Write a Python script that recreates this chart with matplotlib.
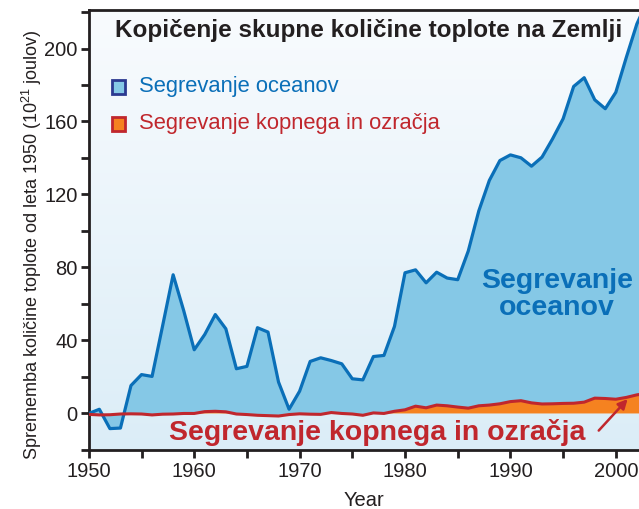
import numpy as np
import matplotlib
matplotlib.use("Agg")
import matplotlib.pyplot as plt
from matplotlib.patches import Rectangle
from matplotlib.ticker import MultipleLocator

plt.rcParams['font.family'] = ['Liberation Sans', 'DejaVu Sans']
plt.rcParams['mathtext.fontset'] = 'custom'
plt.rcParams['mathtext.rm'] = 'Liberation Sans'

# podatki (odčitani s slike)
years = list(range(1950, 2004))
ocean = [0, 2.3, -8.3, -8, 15.3, 21.3, 20.3, 48, 76, 56.4,
         34.9, 43.3, 54.2, 46.4, 24.5, 25.8, 47, 44.6, 17.2, 2.3,
         12.2, 28.5, 30.5, 29, 27.2, 19, 18.4, 31.2, 31.8, 47.7,
         77.1, 78.7, 71.6, 77.4, 74.2, 73.3, 89, 111, 127.7, 138.6,
         141.7, 140.1, 135.5, 140.5, 150.5, 161.5, 179.2, 184, 171.9, 167,
         176, 195.2, 213.5, 226]
land = [-0.5, -0.8, -0.7, -0.3, -0.2, -0.3, -0.8, -0.4, -0.3, 0,
        0, 1, 1.2, 0.9, -0.3, -0.6, -1, -1.2, -1.4, -0.6,
        -0.2, -0.4, -0.5, 0.5, 0, -0.3, -1, 0.3, 0, 1.2,
        2, 4, 3.1, 4.6, 4.2, 3.5, 2.9, 4.2, 4.6, 5.3,
        6.5, 7, 5.8, 5.2, 5.3, 5.5, 5.6, 6.2, 8.4, 8.2,
        7.8, 8.8, 10.2, 11]

yrs = np.array(years)
oc = np.array(ocean)
ld = np.array(land)

fig = plt.figure(figsize=(6.39, 5.09), dpi=100)
ax = fig.add_axes([0.139, 0.116, 0.861, 0.864])

# ozadje z gradientom (zgoraj skoraj belo, spodaj svetlo modro)
grad = np.linspace(0, 1, 256).reshape(-1, 1)
top_c = np.array([0.975, 0.985, 0.995])
bot_c = np.array([0.86, 0.93, 0.97])
img = top_c + (bot_c - top_c) * grad[:, :, None] * np.ones((1, 2, 1))
ax.imshow(img, extent=[1950, 2002.2, -20, 221], aspect='auto', origin='upper', zorder=0)
ax.set_xlim(1950, 2002.2)
ax.set_ylim(-20, 221)

ax.fill_between(yrs, ld, oc, color='#85c8e6', zorder=1, lw=0)
ax.fill_between(yrs, 0, ld, where=ld > 0, interpolate=True, color='#f58220', zorder=2, lw=0)
ax.plot(yrs, oc, color='#0a6fb8', lw=2.3, zorder=3)
ax.plot(yrs, ld, color='#c0272d', lw=2.2, zorder=4)

for s in ['left', 'bottom', 'top']:
    ax.spines[s].set_linewidth(2)
    ax.spines[s].set_color('#231f20')
ax.spines['right'].set_visible(False)

ax.xaxis.set_major_locator(MultipleLocator(10))
ax.xaxis.set_minor_locator(MultipleLocator(5))
ax.yaxis.set_major_locator(MultipleLocator(40))
ax.yaxis.set_minor_locator(MultipleLocator(20))
ax.tick_params(which='both', direction='out', width=2, length=6, color='#231f20',
               labelsize=14.5, labelcolor='#231f20')
ax.tick_params(axis='x', pad=3)
ax.tick_params(axis='y', pad=2)

ax.set_xlabel('Year', fontsize=14.5, labelpad=7, color='#231f20')
ax.set_ylabel('Sprememba količine toplote od leta 1950 (10$^{21}$ joulov)', fontsize=13,
              color='#231f20')
ax.yaxis.set_label_coords(-0.082, 0.466)

ax.text(0.047, 0.953, 'Kopičenje skupne količine toplote na Zemlji', transform=ax.transAxes,
        fontsize=17.5, fontweight='bold', color='#231f20', va='center', ha='left')

ax.add_patch(Rectangle((0.042, 0.81), 0.024, 0.031, transform=ax.transAxes,
                       facecolor='#85c8e6', edgecolor='#2b3990', lw=2, zorder=6))
ax.text(0.091, 0.827, 'Segrevanje oceanov', transform=ax.transAxes, fontsize=15.8,
        color='#0a6fb8', va='center', ha='left')
ax.add_patch(Rectangle((0.042, 0.726), 0.024, 0.031, transform=ax.transAxes,
                       facecolor='#f58220', edgecolor='#c0272d', lw=2, zorder=6))
ax.text(0.091, 0.743, 'Segrevanje kopnega in ozračja', transform=ax.transAxes, fontsize=15.8,
        color='#c0272d', va='center', ha='left')

ax.text(1994.4, 65, 'Segrevanje\noceanov', fontsize=20.5, fontweight='bold', color='#0a6fb8',
        ha='center', va='center', linespacing=1.05, zorder=6)
ax.text(1957.6, -10.5, 'Segrevanje kopnega in ozračja', fontsize=20.5, fontweight='bold',
        color='#c0272d', ha='left', va='center', zorder=6)
ax.annotate('', xy=(2001.3, 9), xytext=(1998.2, -10.5),
            arrowprops=dict(arrowstyle='-|>', color='#c0272d', lw=1.8, mutation_scale=14), zorder=6)

fig.savefig('out.png', dpi=100)
